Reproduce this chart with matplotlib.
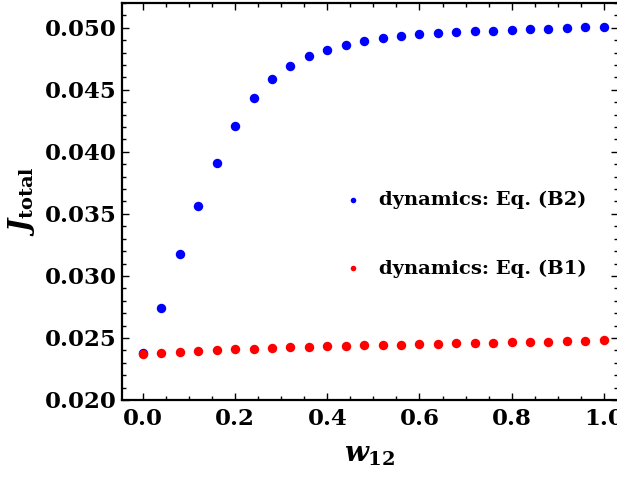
import numpy as np
import matplotlib
matplotlib.use("Agg")
import matplotlib.pyplot as plt
from matplotlib.ticker import MultipleLocator

# data
w12 = [0.00, 0.04, 0.08, 0.12, 0.16, 0.20, 0.24, 0.28, 0.32, 0.36,
       0.40, 0.44, 0.48, 0.52, 0.56, 0.60, 0.64, 0.68, 0.72, 0.76,
       0.80, 0.84, 0.88, 0.92, 0.96, 1.00]
j_b2 = [0.02377, 0.02740, 0.03173, 0.03563, 0.03913, 0.04211, 0.04434, 0.04590, 0.04695, 0.04776,
        0.04824, 0.04865, 0.04897, 0.04921, 0.04931, 0.04948, 0.04956, 0.04964, 0.04974, 0.04974,
        0.04985, 0.04988, 0.04994, 0.05002, 0.05004, 0.05010]
j_b1 = [0.02367, 0.02375, 0.02385, 0.02394, 0.02402, 0.02407, 0.02413, 0.02418, 0.02423, 0.02429,
        0.02434, 0.02437, 0.02440, 0.02442, 0.02445, 0.02448, 0.02453, 0.02456, 0.02458, 0.02461,
        0.02464, 0.02466, 0.02469, 0.02472, 0.02474, 0.02480]

plt.rcParams['font.family'] = 'DejaVu Serif'
plt.rcParams['font.weight'] = 'bold'
plt.rcParams['mathtext.fontset'] = 'custom'
plt.rcParams['mathtext.rm'] = 'DejaVu Serif:bold'
plt.rcParams['mathtext.bf'] = 'DejaVu Serif:bold'
plt.rcParams['mathtext.it'] = 'DejaVu Serif:italic:bold'

fig = plt.figure(figsize=(6.17, 4.79), dpi=100)
ax = fig.add_axes([0.1977, 0.165, 0.804, 0.8287])

ax.plot(w12, j_b2, 'o', color='#0000ff', markersize=6.8, markeredgewidth=0)
ax.plot(w12, j_b1, 'o', color='#ff0000', markersize=6.8, markeredgewidth=0)

ax.set_xlim(-0.0457, 1.031)
ax.set_ylim(0.020, 0.052)

ax.xaxis.set_minor_locator(MultipleLocator(0.05))
ax.yaxis.set_minor_locator(MultipleLocator(0.001))
ax.set_xticks([0, 0.2, 0.4, 0.6, 0.8, 1.0])
ax.set_xticklabels(['0.0', '0.2', '0.4', '0.6', '0.8', '1.0'])
ax.set_yticks([0.020, 0.025, 0.030, 0.035, 0.040, 0.045, 0.050])
ax.set_yticklabels(['0.020', '0.025', '0.030', '0.035', '0.040', '0.045', '0.050'])
ax.tick_params(which='both', direction='in', top=True, right=True, labelsize=16.5, width=1.0)
ax.tick_params(which='major', length=5)
ax.tick_params(which='minor', length=3)
ax.tick_params(axis='x', pad=6)
for s in ax.spines.values():
    s.set_linewidth(1.6)

ax.set_xlabel(r'$w_{\rm 12}$', fontsize=20, labelpad=8)
ax.set_ylabel(r'$J_{\rm total}$', fontsize=20, labelpad=6)

# legend entries
ax.plot([0.456], [0.0361], 'o', color='#0000ff', markersize=4, markeredgewidth=0)
ax.text(0.513, 0.0361, 'dynamics: Eq. (B2)', fontsize=14, fontweight='bold', va='center')
ax.plot([0.456], [0.0306], 'o', color='#ff0000', markersize=4, markeredgewidth=0)
ax.text(0.513, 0.0306, 'dynamics: Eq. (B1)', fontsize=14, fontweight='bold', va='center')

fig.savefig('out.png', dpi=100)
